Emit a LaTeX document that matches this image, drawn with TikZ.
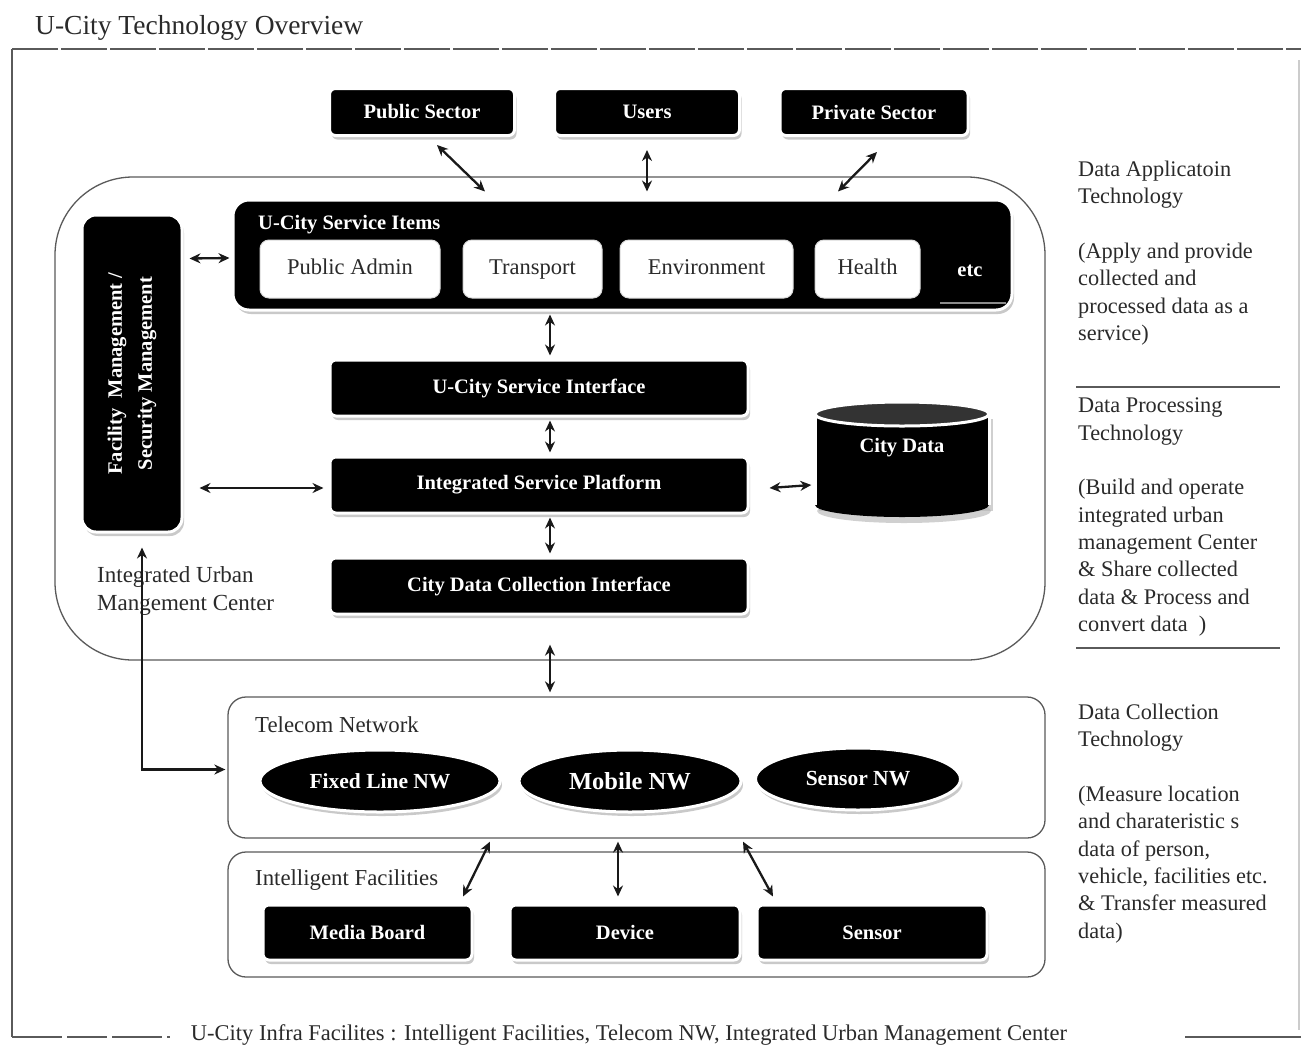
\documentclass[tikz,border=0pt]{standalone}
\usepackage{fontspec}
\setmainfont{Liberation Serif}
\usetikzlibrary{shapes.geometric,shadows,arrows.meta}
\definecolor{txt}{HTML}{2A2A2A}
\definecolor{frm}{HTML}{5A5A5A}
\newcommand\myfs[2]{\fontsize{#1}{#2}\selectfont}
\begin{document}
\begin{tikzpicture}[x=1pt,y=-1pt,
  blk/.style={rectangle, rounded corners=6pt, fill=black, draw=white, line width=3pt, text=white,
    font=\bfseries\myfs{20.5}{24}, inner sep=0pt,
    drop shadow={shadow xshift=2pt, shadow yshift=-4pt, fill=black!35, opacity=0.6}},
  wbx/.style={rectangle, rounded corners=9pt, fill=white, draw=black!15, line width=1pt, text=txt,
    font=\myfs{22.5}{26}, inner sep=0pt, text height=15pt, text depth=5pt},
  ell/.style={ellipse, fill=black, draw=white, line width=3pt, text=white,
    font=\bfseries\myfs{21.5}{26}, inner sep=0pt,
    drop shadow={shadow xshift=2pt, shadow yshift=-4pt, fill=black!35, opacity=0.6}},
  region/.style={rectangle, draw=frm, line width=1.3pt, inner sep=0pt},
  lbl/.style={text=txt, font=\myfs{22.8}{27.3}, inner sep=0pt, anchor=west},
  side/.style={text=txt, font=\myfs{22.3}{27.3}, inner sep=0pt, anchor=north west, align=left},
  arr/.style={{Stealth[length=11pt,width=10pt]}-{Stealth[length=11pt,width=10pt]}, line width=2.3pt, draw=black!90}
]
\useasboundingbox (0,0) rectangle (1301,1045);
\fill[white] (0,0) rectangle (1301,1045);

% title
\node[text=txt, font=\myfs{27.5}{30}, inner sep=0pt, anchor=west] (title) at (35,28) {U-City Technology Overview};

% outer frame
\draw[frm, line width=2pt, dash pattern=on 46pt off 3pt] (12,49) -- (1301,49);
\draw[frm, line width=2pt] (12,49) -- (12,1037);
\draw[black!20, line width=1.5pt] (1299,60) -- (1299,1030);
\draw[frm, line width=2pt, dash pattern=on 50pt off 5pt on 40pt off 5pt] (12,1037) -- (170,1037);
\draw[frm, line width=2pt] (1185,1037) -- (1301,1037);
\node[text=txt, font=\myfs{22.5}{26}, inner sep=0pt] (infra) at (629,1035) {U-City Infra Facilites : Intelligent Facilities, Telecom NW, Integrated Urban Management Center};

% top boxes
\node[blk, minimum width=185pt, minimum height=47pt] (pub) at (422,112) {Public Sector};
\node[blk, minimum width=185pt, minimum height=47pt] (users) at (647,112) {Users};
\node[blk, minimum width=188pt, minimum height=47pt] (priv) at (874,112) {Private Sector};

% integrated urban management center region
\node[region, rounded corners=78pt, minimum width=990pt, minimum height=483pt] (iumc) at (550,418.5) {};

% service items
\node[blk, rounded corners=16pt, minimum width=779pt, minimum height=110pt] (svc) at (622.5,255) {};
\node[text=white, font=\bfseries\myfs{20.5}{24}, inner sep=0pt, anchor=west] (svct) at (258,225) {U-City Service Items};
\node[wbx, minimum width=180pt, minimum height=58pt] (padmin) at (350,269) {Public Admin};
\node[wbx, minimum width=139pt, minimum height=58pt] (transp) at (532.5,269) {Transport};
\node[wbx, minimum width=173pt, minimum height=58pt] (env) at (706.5,269) {Environment};
\node[wbx, minimum width=105pt, minimum height=58pt] (health) at (867.5,269) {Health};
\node[text=white, font=\bfseries\myfs{20.5}{24}, inner sep=0pt] (etc) at (970,271) {etc};
\draw[black!45, line width=1.2pt] (940,303) -- (1006,303);

% facility management
\node[blk, rounded corners=14pt, minimum width=100pt, minimum height=317pt] (fac) at (132,373.5) {};
\node[rotate=90, text=white, font=\bfseries\myfs{20.5}{30}, align=center, inner sep=0pt] (fact) at (fac.center) {Facility\ \ Management /\\Security Management};

% central column
\node[blk, minimum width=418pt, minimum height=56pt] (sif) at (539,388) {U-City Service Interface};
\node[blk, minimum width=418pt, minimum height=56pt] (isp) at (539,485) {Integrated Service Platform};
\node[blk, minimum width=418pt, minimum height=56pt] (cdci) at (539,586) {City Data Collection Interface};

% city data cylinder
\fill[black!30, opacity=0.6] (819,419) rectangle (993,511);
\fill[black!30, opacity=0.6] (904,511) ellipse [x radius=87, y radius=12];
\fill[black] (815,414) rectangle (989,505);
\fill[black] (902,505) ellipse [x radius=87, y radius=12];
\draw[white, line width=3pt] (815,414) -- (815,505);
\draw[white, line width=3pt] (989,414) -- (989,505);
\filldraw[fill=black!80, draw=white, line width=3pt] (902,414) ellipse [x radius=87, y radius=12];
\node[inner sep=0pt, minimum width=175pt, minimum height=115pt] (cd) at (902,460) {};
\node[text=white, font=\bfseries\myfs{20.5}{24}, inner sep=0pt] (cdt) at (902,448) {City Data};

% IUMC label
\node[text=txt, font=\myfs{23}{28}, inner sep=0pt, anchor=west, align=left] (iumct) at (97,591) {Integrated Urban\\Mangement Center};

% telecom network
\node[region, rounded corners=18pt, minimum width=817pt, minimum height=141pt] (tel) at (636.5,767.5) {};
\node[lbl] (telt) at (255,725) {Telecom Network};
\node[ell, minimum width=240pt, minimum height=62pt] (fixed) at (380,781) {Fixed Line NW};
\node[ell, minimum width=222pt, minimum height=62pt, font=\bfseries\myfs{24.5}{28}] (mobile) at (630,781) {Mobile NW};
\node[ell, minimum width=205pt, minimum height=62pt] (sensnw) at (858,779) {Sensor NW};

% intelligent facilities
\node[region, rounded corners=18pt, minimum width=817pt, minimum height=125pt] (intf) at (636.5,914.5) {};
\node[lbl] (intft) at (255,880) {Intelligent Facilities};
\node[blk, minimum width=209pt, minimum height=55pt] (media) at (367.5,932.5) {Media Board};
\node[blk, minimum width=230pt, minimum height=55pt] (device) at (625,932.5) {Device};
\node[blk, minimum width=230pt, minimum height=55pt] (sensor) at (872,932.5) {Sensor};

% right column
\node[side] (s1) at (1078,161) {Data Applicatoin\\Technology\\[27.3pt](Apply and provide\\collected and\\processed data as a\\service)};
\draw[frm, line width=1.5pt] (1076,387) -- (1280,387);
\node[side] (s2) at (1078,398) {Data Processing\\Technology\\[27.3pt](Build and operate\\integrated urban\\management Center\\\& Share collected\\data \& Process and\\convert data\ \ )};
\draw[frm, line width=1.5pt] (1076,648) -- (1280,648);
\node[side] (s3) at (1078,704) {Data Collection\\Technology\\[27.3pt](Measure location\\and charateristic s\\data of person,\\vehicle, facilities etc.\\\& Transfer measured\\data)};

% connectors
\draw[arr] ([shift={(15,8)}]pub.south) -- ([shift={(-137.5,-7)}]svc.north);
\draw[arr] ([shift={(0,13)}]users.south) -- ([shift={(24.5,-7)}]svc.north);
\draw[arr] ([shift={(3,15)}]priv.south) -- ([shift={(215.5,-7)}]svc.north);
\draw[arr] ([shift={(6,-115)}]fac.east) -- ([shift={(-2,3)}]svc.west);
\draw[arr] ([shift={(-72.5,3)}]svc.south) -- ([shift={(11,-3)}]sif.north);
\draw[arr] ([shift={(11,3)}]sif.south) -- ([shift={(11,-3)}]isp.north);
\draw[arr] ([shift={(11,3)}]isp.south) -- ([shift={(11,-3)}]cdci.north);
\draw[arr] ([shift={(16,3)}]fac.east |- isp.west) -- ([shift={(-5,3)}]isp.west);
\draw[arr] ([shift={(20,3)}]isp.east) -- ([shift={(-3,0)}]cd.west |- isp.east);
\draw[arr] ([shift={(0,-16)}]iumc.south) -- ([shift={(0,-4)}]iumc.south |- tel.north);
\draw[arr] ([shift={(10,14)}]fac.south) |- ([shift={(-2,2)}]tel.west);
\draw[arr] ([shift={(-146.5,3)}]tel.south) -- ([shift={(95.5,-7)}]media.north);
\draw[arr] ([shift={(-18.5,3)}]tel.south) -- ([shift={(-7,-7)}]device.north);
\draw[arr] ([shift={(106.5,3)}]tel.south) -- ([shift={(-99,-7)}]sensor.north);
\end{tikzpicture}
\end{document}
